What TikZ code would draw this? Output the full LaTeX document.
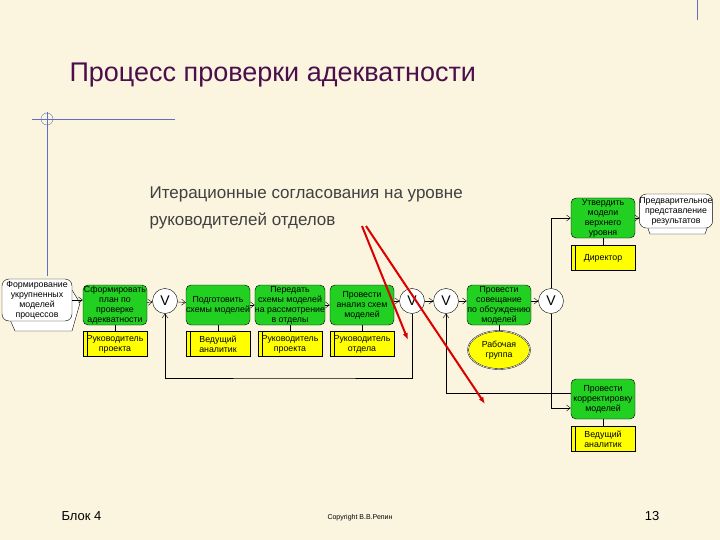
\documentclass[tikz,border=0pt]{standalone}
\usepackage{fontspec}
\setmainfont{Liberation Sans}
\usetikzlibrary{arrows.meta,shapes.geometric}
\definecolor{bg}{HTML}{FBF5E0}
\definecolor{fgreen}{HTML}{22D022}
\definecolor{ryel}{HTML}{FFFF00}
\definecolor{ttl}{HTML}{4B0F4B}
\definecolor{bl}{HTML}{6070C0}
\begin{document}
\begin{tikzpicture}[x=1pt,y=-1pt,
  fn/.style={draw,fill=fgreen,rounded corners=5pt,minimum width=64pt,minimum height=40pt,inner sep=0pt,align=center,font=\fontsize{8.8}{10}\selectfont},
  res/.style={draw,fill=ryel,minimum width=64pt,minimum height=25pt,inner sep=0pt,align=center,font=\fontsize{8.8}{10}\selectfont,
    path picture={\draw ([xshift=4pt]path picture bounding box.north west)--([xshift=4pt]path picture bounding box.south west);}},
  ev/.style={draw,fill=white,rounded corners=7pt,minimum width=70pt,minimum height=42pt,inner sep=0pt,align=center,font=\fontsize{8.8}{10}\selectfont},
  op/.style={draw,fill=white,circle,minimum size=25pt,inner sep=0pt,font=\fontsize{14}{14}\selectfont},
  ar/.style={-{Straight Barb[length=4pt,width=6pt]}}]
\fill[bg] (0,0) rectangle (720,540);
\useasboundingbox (0,0) rectangle (720,540);
\node[anchor=west,text=ttl,font=\fontsize{27}{30}\selectfont] (title) at (66,75) {Процесс проверки адекватности};
\draw[bl] (32,119) -- (175,119);
\draw[bl] (47,112) -- (47,276);
\draw[bl] (47,119) circle (6);
\draw[bl] (697,0) -- (697,20);
\node[anchor=west,text=black!75,align=left,font=\fontsize{17}{27}\selectfont] (sub) at (146,208) {Итерационные согласования на уровне\\руководителей отделов};
% event left
\draw[fill=white] (15,290) -- (72,290) -- (80,303) -- (72,331) -- (15,331) -- (8,315) -- cycle;
\node[ev] (e1) at (37,300) {Формирование\\укрупненных\\моделей\\процессов};
\node[fn] (f1) at (115,305) {Сформировать\\план по\\проверке\\адекватности};
\node[res] (r1) at (115,344) {Руководитель\\проекта};
\node[op] (v1) at (165,301) {V};
\node[fn] (f2) at (218,305) {Подготовить\\схемы моделей};
\node[res] (r2) at (218,344) {Ведущий\\аналитик};
\node[fn] (f3) at (290,305) {Передать\\схемы моделей\\на рассмотрение\\в отделы};
\node[res] (r3) at (290,344) {Руководитель\\проекта};
\node[fn] (f4) at (362,305) {Провести\\анализ схем\\моделей};
\node[res] (r4) at (362,344) {Руководитель\\отдела};
\node[op] (v2) at (412,301) {V};
\node[op] (v3) at (446,301) {V};
\node[fn] (f5) at (499,305) {Провести\\совещание\\по обсуждению\\моделей};
\node[draw,double,fill=ryel,ellipse,minimum width=62pt,minimum height=38pt,inner sep=0pt,align=center,font=\fontsize{8.8}{10}\selectfont] (g) at (499,350) {Рабочая\\группа};
\node[op] (v4) at (551,301) {V};
\node[fn] (f6) at (603,218) {Утвердить\\модели\\верхнего\\уровня};
\node[res] (r6) at (603,258) {Директор};
\draw[fill=white] (650,200) -- (705,200) -- (712,214) -- (705,234) -- (650,234) -- (645,220) -- cycle;
\node[ev,minimum width=62pt,minimum height=34pt] (e2) at (676,211) {Предварительное\\представление\\результатов};
\node[fn] (f7) at (603,399) {Провести\\корректировку\\моделей};
\node[res] (r7) at (603,439) {Ведущий\\аналитик};
% flow
\draw[ar] (e1.east) -- (f1.west |- e1.east);
\draw[ar] (f1) -- (v1);
\draw[ar] (v1) -- (f2);
\draw[ar] (f2) -- (f3);
\draw[ar] (f3) -- (f4);
\draw[ar] (f4.east |- v2) -- (v2);
\draw[ar] (v2) -- (v3);
\draw[ar] (v3) -- (f5.west |- v3);
\draw[ar] (f5.east |- v4) -- (v4);
\draw[ar] (v4.north) |- (f6.west);
\draw[ar] (v4.south) |- ([yshift=-9pt]f7.west);
\draw[ar] (f6) -- (e2.west |- f6);
\draw[ar] ([yshift=6pt]f7.west) -| (v3.south);
\draw[ar] (v2.south) |- (300,378) -| (v1.south);
\foreach \a/\b in {f1/r1,f2/r2,f3/r3,f4/r4,f5/g,f6/r6,f7/r7} \draw (\a) -- (\b);
% red arrows
\coordinate (ra) at (362,226);
\draw[red!85!black,line width=2pt,-{Latex[length=7pt]}] (ra) -- (408,340);
\draw[red!85!black,line width=2pt,-{Latex[length=7pt]}] ([xshift=4pt]ra) -- (485,404);
\node[anchor=west,font=\fontsize{13}{15}\selectfont] (blk) at (58,516) {Блок 4};
\node[font=\fontsize{7}{8}\selectfont] (cp) at (360,518) {Copyright В.В.Репин};
\node[font=\fontsize{13}{15}\selectfont] (pg) at (652,516) {13};
\end{tikzpicture}
\end{document}
